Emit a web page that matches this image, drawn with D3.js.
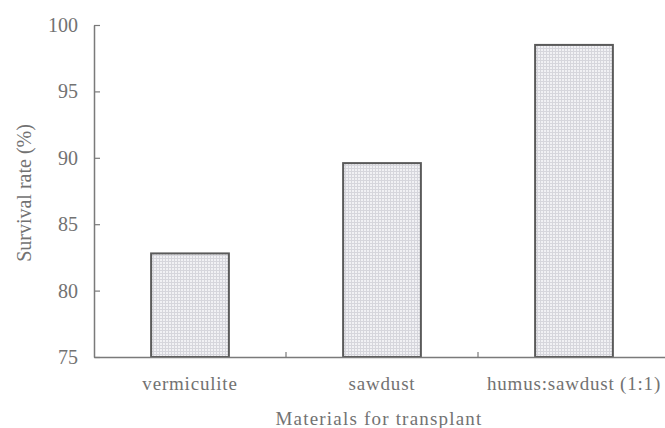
<!DOCTYPE html>
<html>
<head>
<meta charset="utf-8">
<script src="https://cdn.jsdelivr.net/npm/d3@7"></script>
<style>
  body { margin: 0; background: #fff; }
</style>
</head>
<body>
<svg id="chart" width="665" height="428"></svg>
<script>
// data
const categories = ['vermiculite', 'sawdust', 'humus:sawdust (1:1)'];
const survival = [82.8, 89.6, 98.5];
const yTicks = [75, 80, 85, 90, 95, 100];

const serif = '"Liberation Serif"';
const textColor = '#727272';
const axisColor = '#7a7a7a';

const svg = d3.select('#chart')
  .style('font-family', serif);

// pattern for the bar fill (fine grid)
const defs = svg.append('defs');
const pat = defs.append('pattern')
  .attr('id', 'grid')
  .attr('width', 3)
  .attr('height', 3)
  .attr('patternUnits', 'userSpaceOnUse');
pat.append('rect').attr('width', 3).attr('height', 3).attr('fill', '#f1f1f4');
pat.append('path').attr('d', 'M0,0.5H3M0.5,0V3').attr('stroke', '#d6d6dc').attr('stroke-width', 1);

const x = d3.scaleBand()
  .domain(categories)
  .range([94, 670])
  .padding(0);

const y = d3.scaleLinear()
  .domain([75, 100])
  .range([357, 25]);

const barW = x.bandwidth() * 0.405;

// bars
svg.selectAll('.bar')
  .data(survival)
  .enter()
  .append('rect')
  .attr('class', 'bar')
  .attr('x', (d, i) => x(categories[i]) + (x.bandwidth() - barW) / 2)
  .attr('y', d => y(d))
  .attr('width', barW)
  .attr('height', d => y(75) - y(d))
  .attr('fill', 'url(#grid)')
  .attr('stroke', '#5a5a5a')
  .attr('stroke-width', 2);

// y axis, ticks point inward
const yAxis = svg.append('g')
  .attr('transform', 'translate(94,0)')
  .call(d3.axisRight(y).tickValues(yTicks).tickSize(6).tickSizeOuter(0));
yAxis.select('.domain').attr('stroke', axisColor).attr('stroke-width', 1.5);
yAxis.selectAll('.tick line').attr('stroke', axisColor).attr('stroke-width', 1.2);
yAxis.selectAll('.tick text')
  .attr('x', -16)
  .attr('text-anchor', 'end')
  .style('font-family', serif)
  .style('font-size', '20px')
  .attr('fill', textColor);

// x axis
const xAxis = svg.append('g')
  .attr('transform', `translate(0,${y(75)})`)
  .call(d3.axisBottom(x).tickSize(0).tickSizeOuter(0));
xAxis.select('.domain').attr('stroke', axisColor).attr('stroke-width', 1.5);
xAxis.selectAll('.tick text')
  .attr('y', 20)
  .style('font-family', serif)
  .style('font-size', '19px')
  .attr('letter-spacing', 0.8)
  .attr('fill', textColor);

// small separators between categories
svg.selectAll('.sep')
  .data(categories.slice(1))
  .enter()
  .append('line')
  .attr('class', 'sep')
  .attr('x1', d => x(d))
  .attr('x2', d => x(d))
  .attr('y1', y(75))
  .attr('y2', y(75) - 5)
  .attr('stroke', axisColor)
  .attr('stroke-width', 1.2);

// axis titles
svg.append('text')
  .attr('x', 379)
  .attr('y', 425)
  .attr('text-anchor', 'middle')
  .style('font-family', serif)
  .style('font-size', '19px')
  .attr('letter-spacing', 1.2)
  .attr('fill', textColor)
  .text('Materials for transplant');

svg.append('text')
  .attr('transform', 'translate(31,193) rotate(-90)')
  .attr('text-anchor', 'middle')
  .style('font-family', serif)
  .style('font-size', '20px')
  .attr('fill', textColor)
  .text('Survival rate (%)');
</script>
</body>
</html>
